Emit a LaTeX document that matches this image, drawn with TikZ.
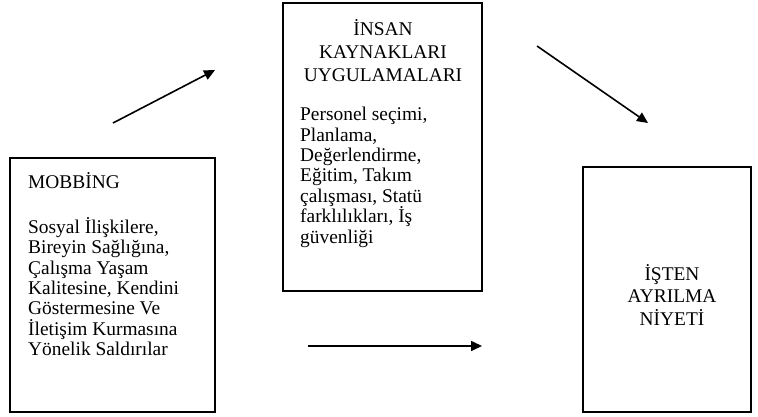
\documentclass[tikz,border=0pt]{standalone}
\usepackage{fontspec}
\setmainfont{Liberation Serif}
\usetikzlibrary{arrows.meta}
\begin{document}
\begin{tikzpicture}[x=1pt,y=-1pt,
  frame/.style={draw, line width=1.3pt, inner sep=0pt},
  txt/.style={inner sep=0pt, font=\fontsize{19.4}{20.4}\selectfont},
  head/.style={inner sep=0pt, font=\fontsize{19.4}{22.8}\selectfont},
  link/.style={line width=1.6pt, -{Triangle[length=11pt,width=10pt]}}]
\useasboundingbox (0,0) rectangle (758,416);

% three boxes
\node[frame, minimum width=205pt, minimum height=254pt] (mob) at (112.5,285) {};
\node[frame, minimum width=199pt, minimum height=288pt] (ik) at (382.5,147) {};
\node[frame, minimum width=168pt, minimum height=245pt] (ayr) at (667,289.5) {};

% texts
\node[txt, anchor=north west, align=left] (mobtxt) at (28,172)
  {MOBBİNG\\[24.6pt]
   Sosyal İlişkilere,\\
   Bireyin Sağlığına,\\
   Çalışma Yaşam\\
   Kalitesine, Kendini\\
   Göstermesine Ve\\
   İletişim Kurmasına\\
   Yönelik Saldırılar};
\node[head, anchor=north, align=center] (iktitle) at (383,19.5)
  {İNSAN\\KAYNAKLARI\\UYGULAMALARI};
\node[txt, anchor=north west, align=left] (iktxt) at (300,107)
  {Personel seçimi,\\
   Planlama,\\
   Değerlendirme,\\
   Eğitim, Takım\\
   çalışması, Statü\\
   farklılıkları, İş\\
   güvenliği};
\node[head, align=center, font=\fontsize{19.4}{22.5}\selectfont] (ayrtxt) at (672,294.5)
  {İŞTEN\\AYRILMA\\NİYETİ};

% arrows between the boxes
\coordinate (a1s) at (113,123);
\coordinate (a1e) at (215,70);
\coordinate (a2s) at (537,46);
\coordinate (a2e) at (648,123);
\coordinate (a3s) at (308,346);
\coordinate (a3e) at (482,346);
\draw[link] (a1s) -- (a1e);
\draw[link] (a2s) -- (a2e);
\draw[link] (a3s) -- (a3e);
\end{tikzpicture}
\end{document}
